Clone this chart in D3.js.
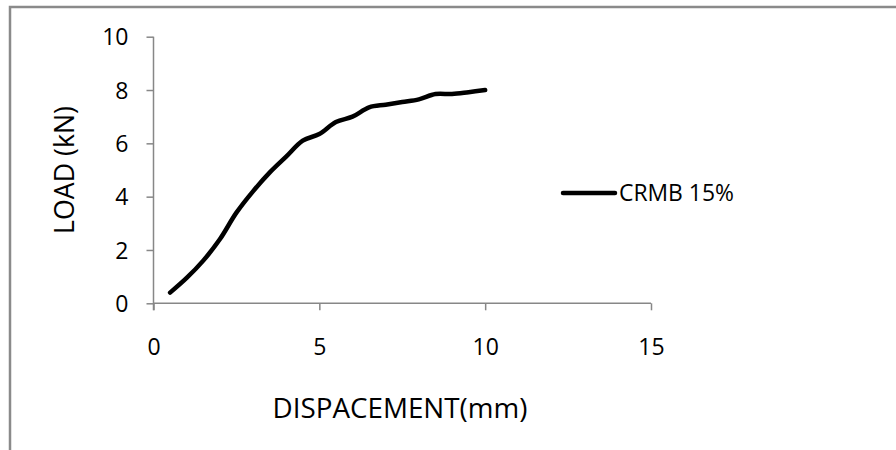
<!DOCTYPE html>
<html>
<head>
<meta charset="utf-8">
<script src="https://cdn.jsdelivr.net/npm/d3@7/dist/d3.min.js"></script>
<style>
  html, body { margin: 0; padding: 0; background: #fff; }
  svg { display: block; }
  text { font-family: "Open Sans", "Liberation Sans", sans-serif; fill: #000; }
</style>
</head>
<body>
<svg id="chart" width="896" height="450"></svg>
<script>
// ---- data ----
const displacement = [0.5, 1.0, 1.5, 2.0, 2.5, 3.0, 3.5, 4.0, 4.5, 5.0, 5.5, 6.0, 6.5, 7.0, 7.5, 8.0, 8.5, 9.0, 9.5, 10.0];
const load         = [0.4, 0.95, 1.6, 2.4, 3.4, 4.2, 4.9, 5.5, 6.1, 6.35, 6.8, 7.0, 7.35, 7.45, 7.55, 7.65, 7.85, 7.85, 7.92, 8.0];
const seriesName = "CRMB 15%";
const xTicks = [0, 5, 10, 15];
const yTicks = [0, 2, 4, 6, 8, 10];
const xTitle = "DISPACEMENT(mm)";
const yTitle = "LOAD (kN)";

const svg = d3.select("#chart");
const axisColor = "#878787";

// outer chart border (extends past right/bottom edges)
svg.append("rect")
  .attr("x", 10).attr("y", 7)
  .attr("width", 1000).attr("height", 600)
  .attr("fill", "none").attr("stroke", "#8a8a8a").attr("stroke-width", 2.5);

const x = d3.scaleLinear().domain([0, 15]).range([153.5, 651]);
const y = d3.scaleLinear().domain([0, 10]).range([303.3, 36.7]);

function fitText(sel, target) {
  const w = sel.node().getComputedTextLength();
  const fs = parseFloat(sel.attr("font-size"));
  sel.attr("font-size", fs * target / w);
}

// x axis
const xAxis = svg.append("g")
  .attr("transform", `translate(0,${y(0)})`)
  .call(d3.axisBottom(x).tickValues(xTicks).tickSize(7).tickPadding(28).tickFormat(d3.format("d")));
// y axis
const yAxis = svg.append("g")
  .attr("transform", `translate(${x(0)},0)`)
  .call(d3.axisLeft(y).tickValues(yTicks).tickSize(7).tickPadding(18).tickFormat(d3.format("d")));

[xAxis, yAxis].forEach(g => {
  g.select(".domain").attr("stroke", axisColor).attr("stroke-width", 1.5);
  g.selectAll(".tick line").attr("stroke", axisColor).attr("stroke-width", 1.5);
  g.selectAll(".tick text")
    .attr("font-family", '"Open Sans", sans-serif')
    .attr("font-size", 23).attr("fill", "#000");
});
xAxis.select(".domain").attr("d", `M${x(0)},0H${x(15)}`);
yAxis.select(".domain").attr("d", `M0,${y(10)}V${y(0) + 7}`);
yAxis.selectAll(".tick text").attr("dy", "0.36em");
xAxis.selectAll(".tick text").attr("dy", "0.71em");

// line
const line = d3.line()
  .x((d, i) => x(displacement[i]))
  .y(d => y(d))
  .curve(d3.curveCatmullRom.alpha(0.5));
svg.append("path")
  .datum(load)
  .attr("d", line)
  .attr("fill", "none")
  .attr("stroke", "#000")
  .attr("stroke-width", 4.5)
  .attr("stroke-linecap", "round")
  .attr("stroke-linejoin", "round");

// legend
const legend = svg.append("g");
legend.append("line")
  .attr("x1", 563).attr("x2", 615).attr("y1", 193).attr("y2", 193)
  .attr("stroke", "#000").attr("stroke-width", 4.5).attr("stroke-linecap", "round");
const lt = legend.append("text")
  .attr("x", 619).attr("y", 193).attr("dy", "0.36em")
  .attr("font-size", 23)
  .text(seriesName);
fitText(lt, 115);

// axis titles
const xt = svg.append("text")
  .attr("x", 400).attr("y", 408).attr("dy", "0.36em")
  .attr("text-anchor", "middle")
  .attr("font-size", 26)
  .text(xTitle);
fitText(xt, 255);

const yt = svg.append("text")
  .attr("transform", "translate(64,170) rotate(-90)")
  .attr("dy", "0.36em")
  .attr("text-anchor", "middle")
  .attr("font-size", 26)
  .text(yTitle);
fitText(yt, 128);
</script>
</body>
</html>
